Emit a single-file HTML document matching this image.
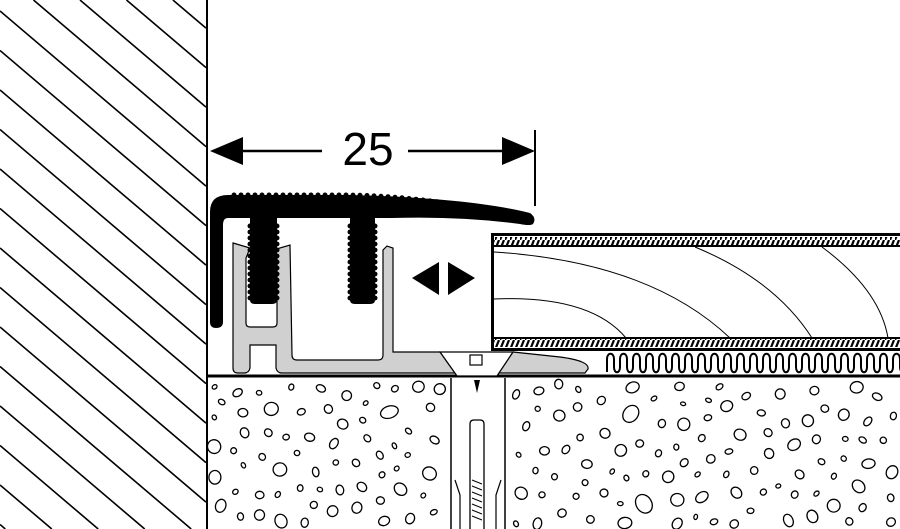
<!DOCTYPE html>
<html><head><meta charset="utf-8"><style>html,body{margin:0;padding:0;background:#fff;overflow:hidden;width:900px;height:529px;position:relative}svg{display:block;position:absolute;left:0;top:0}</style></head>
<body>
<svg id="s" width="900" height="529" viewBox="0 0 900 529" xmlns="http://www.w3.org/2000/svg">
<defs>
<clipPath id="conc"><rect x="208" y="378" width="692" height="151"/></clipPath>
<clipPath id="wv"><rect x="600" y="345" width="300" height="35"/></clipPath>
<clipPath id="vp"><rect x="0" y="0" width="900" height="529"/></clipPath>
<pattern id="hatch" width="5" height="10" patternUnits="userSpaceOnUse">
<rect width="5" height="10" fill="#fff"/>
<line x1="0" y1="10" x2="4" y2="0" stroke="#000" stroke-width="2.2"/>
</pattern>
</defs>
<g id="wallg" stroke="#000" stroke-width="1.6"></g>
<line x1="207" y1="0" x2="207" y2="529" stroke="#000" stroke-width="2"/>
<line x1="207" y1="376" x2="900" y2="376" stroke="#000" stroke-width="3"/>
<g id="peb" clip-path="url(#conc)" fill="none" stroke="#000" stroke-width="1.3"></g>
<line x1="240" y1="151" x2="322" y2="151" stroke="#000" stroke-width="2.5"/>
<line x1="408" y1="151" x2="505" y2="151" stroke="#000" stroke-width="2.5"/>
<polygon points="210,151 243,137 243,165" fill="#000"/>
<polygon points="535,151 502,137 502,165" fill="#000"/>
<line x1="535" y1="130" x2="535" y2="206" stroke="#000" stroke-width="2"/>
<text x="368" y="165" font-family="Liberation Sans, sans-serif" font-size="46" text-anchor="middle">25</text>
<path d="M233,243 L250,248 L246,258 L246,323 Q246,327 250,327 L273,327 Q277,327 277,323 L277,258 L273,250 L290,245 L292,355 Q292,360 297,360 L378,360 Q383,360 383,355 L383,250 L387,246 L393,248 L393,352 L440,352 L457,373 L282,373 Q277,373 276,368 L276,345 L250,345 L250,368 Q249,373 244,373 L238,373 Q233,373 233,368 Z" fill="#d0d0d0" stroke="#000" stroke-width="1.2"/>
<path d="M513,352 L560,357 Q590,361 588,369 L585,373 L497,373 Z" fill="#d0d0d0" stroke="#000" stroke-width="1.2"/>
<path d="M440,352 L513,352 L497,376 L457,376 Z" fill="#fff" stroke="#000" stroke-width="1.3"/>
<rect x="470" y="355" width="12" height="10" fill="#fff" stroke="#000" stroke-width="1.2"/>
<rect x="452" y="379" width="52" height="150" fill="#fff"/>
<path d="M451,378 L451,529 M505,378 L505,529" stroke="#000" stroke-width="1.5"/>
<path d="M470,529 L470,424 Q470,420 474,420 L480,420 Q484,420 484,424 L484,529" fill="none" stroke="#000" stroke-width="1.3"/>
<path d="M455,480 L460,495 L460,529 M501,480 L496,495 L496,529" fill="none" stroke="#000" stroke-width="1.2"/>
<path d="M472,480 L482,484 M472,486 L482,490 M472,492 L482,496 M472,498 L482,502 M472,504 L482,508 M472,510 L482,514 M472,516 L482,520" stroke="#000" stroke-width="1"/>
<polygon points="474,380 480,380 477,393" fill="#000"/>
<path d="M210,322 L210,212 Q210,195 228,195 L350,195 Q470,198 530,213 Q537,218 533,224 Q530,226 520,224 Q460,216 392,218 L375,218 L375,300 Q375,304 370,304 L355,304 Q350,304 350,300 L350,218 L277,218 L277,300 Q277,304 272,304 L255,304 Q250,304 250,300 L250,218 L228,218 Q223,218 223,225 L223,322 Q223,328 216,328 Q210,328 210,322 Z" fill="#000"/>
<g id="bumps" fill="#000"></g>
<polygon points="412,278 439,262 439,295" fill="#000"/>
<polygon points="475,278 448,262 448,295" fill="#000"/>
<path d="M900,234.5 L492.5,234.5 L492.5,349.5 L900,349.5" fill="#fff" stroke="#000" stroke-width="3"/>
<rect x="494" y="237" width="406" height="8" fill="url(#hatch)"/>
<rect x="494" y="339" width="406" height="8" fill="url(#hatch)"/>
<line x1="494" y1="246" x2="900" y2="246" stroke="#000" stroke-width="2"/>
<line x1="494" y1="338" x2="900" y2="338" stroke="#000" stroke-width="2"/>
<g fill="none" stroke="#000" stroke-width="1">
<path d="M494,252 Q650,262 730,338"/>
<path d="M494,299 Q590,295 626,338"/>
<path d="M695,247 Q775,280 812,338"/>
<path d="M822,247 Q880,290 888,338"/>
</g>
<path id="wave" clip-path="url(#wv)" fill="none" stroke="#000" stroke-width="2"/>
</svg>
<script>
(function(){
var ns="http://www.w3.org/2000/svg";
function el(p,t,a){var e=document.createElementNS(ns,t);for(var k in a)e.setAttribute(k,a[k]);p.appendChild(e);return e;}
var w=document.getElementById("wallg");var s=0.85;
for(var k=-6;k<25;k++){var c=-147+k*39.5;
var xa=0,ya=c;if(ya<0){xa=-c/s;ya=0;}
var xb=206,yb=c+s*206;if(yb>529){yb=529;xb=(529-c)/s;}
if(xa<206 && ya<529 && xb>0)el(w,"line",{x1:xa.toFixed(1),y1:ya.toFixed(1),x2:xb.toFixed(1),y2:yb.toFixed(1)});}
var seed=11;function r(){seed=(seed*16807)%2147483647;return seed/2147483647;}
var g=document.getElementById("peb");var pts=[];
for(var i=0;i<6000 && pts.length<230;i++){var x=214+r()*680,y=384+r()*140;if(x>442 && x<514)continue;
var rr=2.5+r()*4.5;if(r()<0.12)rr+=3;
var ok=true;for(var j=0;j<pts.length;j++){var p=pts[j];var dx=p[0]-x,dy=p[1]-y;if(dx*dx+dy*dy<Math.pow(p[2]+rr+10,2)){ok=false;break;}}
if(!ok)continue;pts.push([x,y,rr]);
var e=0.65+r()*0.35;
el(g,"ellipse",{cx:x.toFixed(1),cy:y.toFixed(1),rx:rr.toFixed(1),ry:(rr*e).toFixed(1),transform:"rotate("+(r()*180).toFixed(0)+" "+x.toFixed(1)+" "+y.toFixed(1)+")"});}
var d="M607,372";for(var j=0;j<23;j++){var xa=607+j*13;
d+=" L"+(xa)+",359 C"+(xa)+",352 "+(xa+7)+",352 "+(xa+7)+",359 L"+(xa+7)+",367 C"+(xa+7)+",374 "+(xa+13)+",374 "+(xa+13)+",367";}
document.getElementById("wave").setAttribute("d",d);
var b=document.getElementById("bumps");
for(var y=226;y<300;y+=6){el(b,"circle",{cx:250,cy:y,r:2.5});el(b,"circle",{cx:277,cy:y,r:2.5});el(b,"circle",{cx:350,cy:y,r:2.5});el(b,"circle",{cx:375,cy:y,r:2.5});}
for(var x=234;x<520;x+=7){var yy=x<350?195:195+(x-350)*(x-350)/1500+(x-350)*0.02;el(b,"circle",{cx:x,cy:yy.toFixed(1),r:2.5});}
})();
</script>
</body></html>
